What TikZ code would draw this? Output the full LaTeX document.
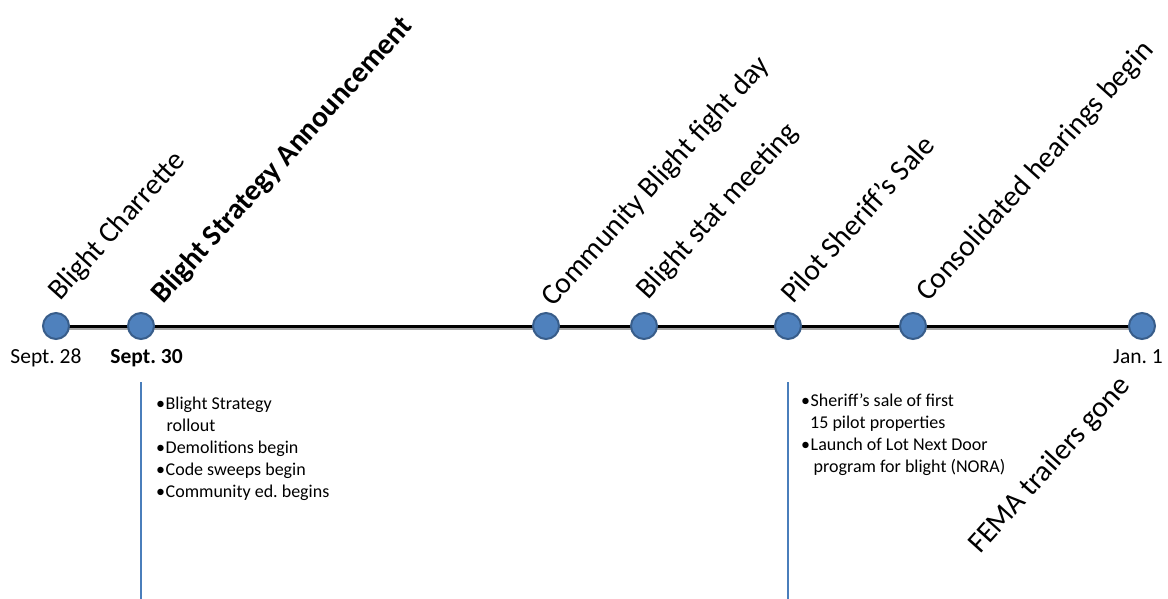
\documentclass[tikz,border=0pt]{standalone}
\usepackage{fontspec}
\setmainfont{Carlito}
\frenchspacing
\usetikzlibrary{backgrounds}
\definecolor{dotblue}{HTML}{4F81BD}
\definecolor{dotedge}{HTML}{385D8A}
\definecolor{leaderblue}{HTML}{4A7EBB}
\definecolor{shadowgrey}{HTML}{A6A6A6}
\newcommand\itm{\makebox[9.5pt][l]{\textbullet}}
\begin{document}
\begin{tikzpicture}[x=1pt,y=1pt,
  event/.style={circle, fill=dotblue, draw=dotedge, line width=2pt,
    minimum size=26pt, inner sep=0pt},
  milestone/.style={rotate=48, anchor=base west, inner sep=0pt,
    font=\fontsize{29.5}{29.5}\selectfont},
  datelbl/.style={anchor=base, inner sep=0pt, font=\fontsize{21.5}{21.5}\selectfont},
  notes/.style={anchor=north west, inner sep=0pt, align=left,
    font=\fontsize{18}{22}\selectfont},
  axis/.style={draw=black, line width=3pt},
  axisshadow/.style={draw=shadowgrey, line width=3pt},
  leader/.style={draw=leaderblue, line width=1.3pt}
]
\useasboundingbox (0,0) rectangle (1168,-599);

% timeline events
\node[event] (d1) at (56,-326) {};
\node[event] (d2) at (141,-326) {};
\node[event] (d3) at (546,-326) {};
\node[event] (d4) at (644,-326) {};
\node[event] (d5) at (788,-326) {};
\node[event] (d6) at (913,-326) {};
\node[event] (d7) at (1142,-326) {};

% axis with its soft shadow, behind the dots
\begin{pgfonlayer}{background}
  \draw[axisshadow] ([yshift=-2.5pt]d1.center) -- ([yshift=-2.5pt]d7.center);
  \draw[axis] (d1.center) -- (d7.center);
\end{pgfonlayer}

% slanted milestone labels
\node[milestone] (l1) at (60,-302) {Blight Charrette};
\node[milestone, font=\fontsize{29.5}{29.5}\selectfont\bfseries] (l2) at (163,-305) {Blight Strategy Announcement};
\node[milestone] (l3) at (553,-308) {Community Blight fight day};
\node[milestone] (l4) at (648,-301) {Blight stat meeting};
\node[milestone] (l5) at (793,-305) {Pilot Sheriff’s Sale};
\node[milestone] (l6) at (928,-303) {Consolidated hearings begin};
\node[milestone] (l7) at (980,-555) {FEMA trailers gone};

% dates under the axis
\node[datelbl] (t1) at (46,-363) {Sept. 28};
\node[datelbl, font=\fontsize{21.5}{21.5}\selectfont\bfseries] (t2) at (146.5,-363) {Sept. 30};
\node[datelbl] (t7) at (1138,-363) {Jan. 1};

% leader lines down to the notes
\coordinate (a2) at (141,-382);
\coordinate (b2) at (141,-599);
\coordinate (a5) at (788,-382);
\coordinate (b5) at (788,-599);
\draw[leader] (a2) -- (b2);
\draw[leader] (a5) -- (b5);

% notes
\node[notes] (n2) at (156,-397) {\itm Blight Strategy\\
  \hspace*{10.5pt}rollout\\
  \itm Demolitions begin\\
  \itm Code sweeps begin\\
  \itm Community ed. begins};
\node[notes] (n5) at (801,-394) {\itm Sheriff’s sale of first\\
  \hspace*{9pt}15 pilot properties\\
  \itm Launch of Lot Next Door\\
  \hspace*{12.5pt}program for blight (NORA)};
\end{tikzpicture}
\end{document}
